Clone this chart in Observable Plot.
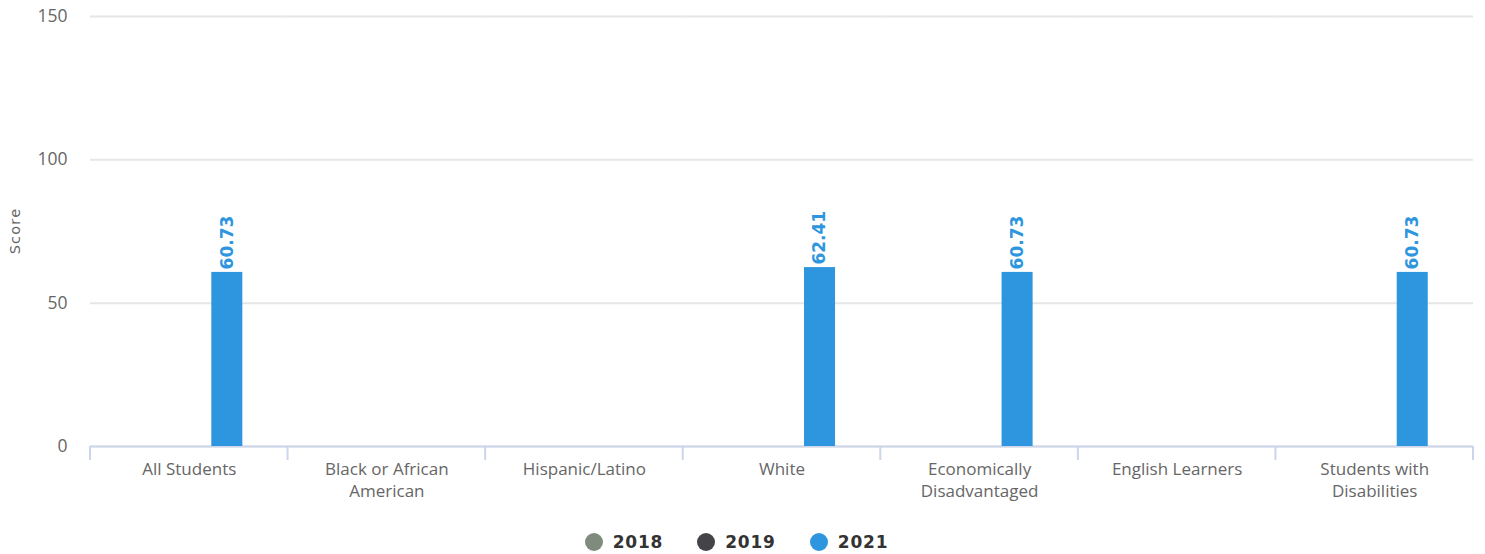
<!DOCTYPE html>
<html>
<head>
<meta charset="utf-8">
<script src="https://cdn.jsdelivr.net/npm/d3@7"></script>
<script src="https://cdn.jsdelivr.net/npm/@observablehq/plot@0.6"></script>
<style>
  body { margin: 0; background: #fff; }
  #chart svg { display: block; }
  #legend { display: flex; justify-content: center; align-items: center; height: 29px; padding-top: 4px; padding-right: 12px; box-sizing: border-box;
    width: 1485px;
    font-family: "DejaVu Sans", sans-serif; font-weight: bold; font-size: 17px; color: #333; letter-spacing: 0.8px; }
  .item { display: flex; align-items: center; margin: 0 17px; }
  .dot { width: 18px; height: 18px; border-radius: 50%; margin-right: 10px; }
</style>
</head>
<body>
<div id="chart"></div>
<div id="legend"></div>
<script>
const categories = ["All Students", "Black or African American", "Hispanic/Latino", "White", "Economically Disadvantaged", "English Learners", "Students with Disabilities"];
const categoryLabels = ["All Students", "Black or African\nAmerican", "Hispanic/Latino", "White", "Economically\nDisadvantaged", "English Learners", "Students with\nDisabilities"];
const years = ["2018", "2019", "2021"];
const colors = ["#7f8c7d", "#434348", "#2e96de"];
const values2018 = [null, null, null, null, null, null, null];
const values2019 = [null, null, null, null, null, null, null];
const values2021 = [60.73, null, null, 62.41, 60.73, null, 60.73];
const yTicks = [0, 50, 100, 150];

const series = {"2018": values2018, "2019": values2019, "2021": values2021};
const rows = [];
for (const y of years) categories.forEach((c, i) => { if (series[y][i] != null) rows.push({category: c, year: y, value: series[y][i]}); });
const labelOf = new Map(categories.map((c, i) => [c, categoryLabels[i]]));

const chart = Plot.plot({
  width: 1485,
  height: 525,
  marginLeft: 90,
  marginRight: 12,
  marginTop: 16,
  marginBottom: 79,
  style: {fontFamily: "'Open Sans', sans-serif", background: "#fff"},
  fx: {domain: categories, padding: 0, round: false, label: null},
  x: {domain: years, paddingInner: 0.184, paddingOuter: 1.19, round: false, axis: null},
  y: {domain: [0, 150], ticks: yTicks, label: null},
  color: {domain: years, range: colors},
  marks: [
    Plot.gridY(yTicks, {stroke: "#e6e6e6", strokeOpacity: 1, strokeWidth: 2}),
    Plot.ruleY(categories, {fx: d => d, y: () => 0, stroke: "#ccd6eb", strokeWidth: 2}),
    Plot.axisY(yTicks, {tickSize: 0, tickPadding: 23, fontSize: 17.5, fill: "#666", label: null}),
    Plot.barY(rows, {fx: "category", x: "year", y: "value", fill: "year"}),
    Plot.text(rows, {fx: "category", x: "year", y: "value", text: d => d.value.toFixed(2), rotate: -90, textAnchor: "start", dy: -3,
      fill: "year", fontFamily: "DejaVu Sans, sans-serif", fontWeight: "bold", fontSize: 17}),
    Plot.axisFx({anchor: "bottom", tickSize: 0, tickPadding: 13, fontSize: 17, fill: "#666", lineHeight: 1.3, label: null,
      tickFormat: d => labelOf.get(d)})
  ]
});
document.getElementById("chart").appendChild(chart);

// category boundary ticks using the fx scale
const svg = d3.select(chart);
const fx = chart.scale("fx");
const bounds = [];
categories.forEach(c => bounds.push(fx.apply(c)));
bounds.push(fx.apply(categories[categories.length - 1]) + fx.bandwidth);
const yS = chart.scale("y");
const y0 = yS.apply(0);
svg.append("g").selectAll("line").data(bounds).join("line")
  .attr("x1", d => d).attr("x2", d => d).attr("y1", y0).attr("y2", y0 + 14)
  .attr("stroke", "#ccd6eb").attr("stroke-width", 2);
// y axis title
svg.append("text").text("Score")
  .attr("transform", `translate(20,${(yS.apply(0) + yS.apply(150)) / 2}) rotate(-90)`)
  .attr("text-anchor", "middle").attr("fill", "#666").attr("font-size", 14.5).attr("letter-spacing", 1.2)
  .attr("font-family", "'DejaVu Sans', sans-serif");

const legend = document.getElementById("legend");
years.forEach((y, i) => {
  const it = document.createElement("div"); it.className = "item";
  const dot = document.createElement("span"); dot.className = "dot"; dot.style.background = colors[i];
  const t = document.createElement("span"); t.textContent = y;
  it.appendChild(dot); it.appendChild(t); legend.appendChild(it);
});
</script>
</body>
</html>
